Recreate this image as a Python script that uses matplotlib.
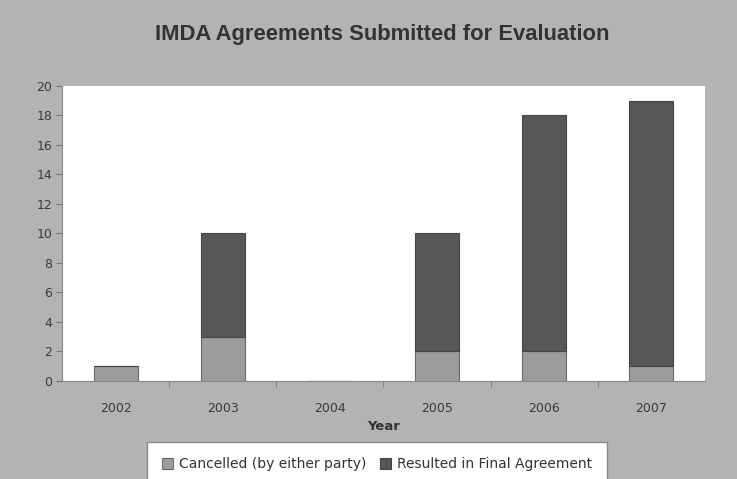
import matplotlib.pyplot as plt
import numpy as np

years = ['2002', '2003', '2004', '2005', '2006', '2007']
cancelled = [1, 3, 0, 2, 2, 1]
final_agreement = [0, 7, 0, 8, 16, 18]

bg = '#b3b3b3'
fig = plt.figure(figsize=(7.37, 4.79), dpi=100)
fig.patch.set_facecolor(bg)
ax = fig.add_axes([0.0841, 0.2046, 0.8725, 0.6159])
ax.set_facecolor('white')

x = np.arange(len(years))
w = 0.41
ax.bar(x, cancelled, w, color='#9c9c9c', edgecolor='#6a6a6a', linewidth=0.8,
       label='Cancelled (by either party)')
ax.bar(x, final_agreement, w, bottom=cancelled, color='#575757', edgecolor='#444444',
       linewidth=0.8, label='Resulted in Final Agreement')

ax.set_xlim(-0.5, len(years) - 0.5)
ax.set_ylim(0, 20)
ax.set_yticks(np.arange(0, 21, 2))
ax.set_xticks(x)
ax.set_xticklabels(years)
ax.set_xticks(np.arange(0.5, len(years) - 0.5, 1), minor=True)
ax.tick_params(axis='x', which='major', length=0, pad=15)
ax.tick_params(axis='x', which='minor', length=4, color='#777777')
ax.tick_params(axis='y', length=4, color='#777777', pad=3)
ax.tick_params(labelsize=9, labelcolor='#3a3a3a')
for s in ['top', 'right']:
    ax.spines[s].set_visible(False)
for s in ['left', 'bottom']:
    ax.spines[s].set_color('#888888')

ax.set_xlabel('Year', fontsize=9.5, fontweight='bold', color='#333333', labelpad=4)
fig.text(0.518, 0.927, 'IMDA Agreements Submitted for Evaluation', ha='center', va='center',
         fontsize=15.8, fontweight='bold', family='Liberation Sans', color='#333333')

leg = fig.legend(loc='upper left', bbox_to_anchor=(147 / 737, 0.0, 460 / 737, 0.077),
                 mode='expand', ncol=2, fontsize=10, frameon=True, fancybox=False,
                 handlelength=0.8, handleheight=0.8, handletextpad=0.4,
                 columnspacing=0.8, borderaxespad=0, borderpad=1.1)
leg.get_frame().set_edgecolor('#888888')
leg.get_frame().set_facecolor('white')
leg.get_frame().set_alpha(1)
for t in leg.get_texts():
    t.set_color('#333333')

fig.savefig('out.png', dpi=100, facecolor=bg)
